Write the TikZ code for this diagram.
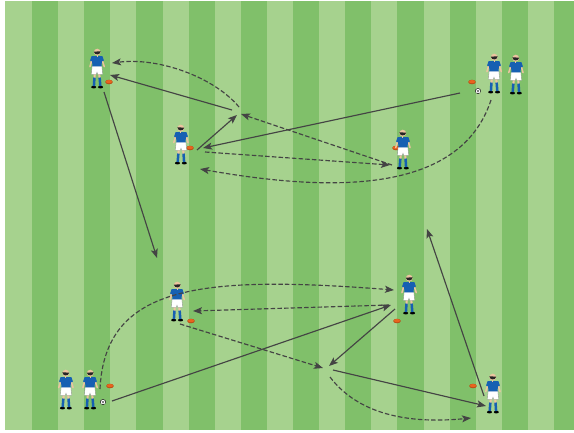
\documentclass[tikz,border=0pt]{standalone}
\usetikzlibrary{arrows.meta}
\definecolor{grassL}{RGB}{166,210,142}
\definecolor{grassD}{RGB}{128,192,106}
\definecolor{kitblue}{RGB}{22,96,178}
\definecolor{skintone}{RGB}{236,196,160}
\definecolor{conecol}{RGB}{232,100,30}
\definecolor{linecol}{RGB}{68,68,68}
\tikzset{
  run/.style={draw=linecol, line width=1.15pt, -{Stealth[length=9pt,width=7pt,inset=2pt]}},
  pass/.style={run, dash pattern=on 4.5pt off 2.2pt},
  cone/.pic={
    \fill[conecol!80!black] (0,0) ellipse (3.8pt and 2.3pt);
    \fill[conecol] (0,-0.4) ellipse (3.1pt and 1.6pt);
  },
  ball/.pic={
    \filldraw[fill=white, draw=black, line width=0.3pt] (0,0) circle (2.7pt);
    \fill[black] (0,0) circle (0.9pt);
    \fill[black] (-1.9,-1.2) circle (0.5pt) (1.9,-1.2) circle (0.5pt) (0,2.2) circle (0.5pt);
  },
  player/.pic={
    \begin{scope}[scale=1.1]
    % boots
    \fill[black] (-3,-0.8) ellipse (2.3pt and 1.2pt);
    \fill[black] (3.2,-0.8) ellipse (2.3pt and 1.2pt);
    % legs and socks
    \draw[skintone, line width=2.1pt] (-2,-13) -- (-2.3,-9);
    \draw[skintone, line width=2.1pt] (2,-13) -- (2.4,-9);
    \draw[kitblue, line width=2.5pt] (-2.3,-9.5) -- (-2.8,-1.8);
    \draw[kitblue, line width=2.5pt] (2.4,-9.5) -- (3,-1.8);
    % arms
    \draw[skintone, line width=1.5pt, line cap=round] (-4.5,-26) -- (-6.4,-19.5);
    \draw[skintone, line width=1.5pt, line cap=round] (4.5,-26) -- (6.6,-19.5);
    % shorts
    \filldraw[fill=white, draw=black!45, line width=0.3pt]
      (-4.4,-20) -- (4.4,-20) -- (5.1,-12.5) -- (0.6,-12.5) -- (0,-14.5)
      -- (-0.6,-12.5) -- (-5.1,-12.5) -- cycle;
    % shirt with short sleeves
    \fill[kitblue] (-4.9,-29) -- (4.9,-29) -- (6.3,-25) -- (4.4,-24.2) -- (4.2,-19.6)
      -- (-4.2,-19.6) -- (-4.4,-24.2) -- (-6.3,-25) -- cycle;
    % head and hair
    \fill[skintone] (-0.4,-28.5) rectangle (1.2,-30.5);
    \fill[skintone] (0.2,-32.6) circle (3.1pt);
    \fill[black!85] (-2.9,-33) arc[start angle=190, end angle=360, radius=3.1pt] -- (3.1,-33.4) -- cycle;
    \end{scope}
  }
}
\begin{document}
\begin{tikzpicture}[x=1pt, y=-1pt]
  \useasboundingbox (0,0) rectangle (574,432);
  \fill[white] (0,0) rectangle (574,432);
  % striped pitch
  \fill[grassL] (5,1) rectangle (574,430);
  \foreach \k in {0,...,10} {
    \pgfmathsetmacro{\xs}{32+52.2*\k}
    \pgfmathsetmacro{\xe}{min(\xs+26.1,574)}
    \fill[grassD] (\xs,1) rectangle (\xe,430);
  }

  % cones and balls
  \pic at (109,82) {cone};
  \pic at (190,148) {cone};
  \pic at (396,148) {cone};
  \pic at (472,82) {cone};
  \pic at (478,91) {ball};
  \pic at (110,386) {cone};
  \pic at (103,402) {ball};
  \pic at (191,321) {cone};
  \pic at (397,321) {cone};
  \pic at (473,386) {cone};

  % players
  \pic at (97,88) {player};
  \pic[xscale=-1] at (181,164) {player};
  \pic[xscale=-1] at (403,169) {player};
  \pic at (494,93) {player};
  \pic[xscale=-1] at (516,94) {player};
  \pic[xscale=-1] at (66,409) {player};
  \pic at (90,409) {player};
  \pic at (177,321) {player};
  \pic at (409,314) {player};
  \pic[xscale=-1] at (493,413) {player};

  % movement points of the upper group
  \coordinate (t1) at (104,92);
  \coordinate (t1a) at (110,75);
  \coordinate (t1b) at (112,63);
  \coordinate (t2) at (197,150);
  \coordinate (t2a) at (203,148);
  \coordinate (t2b) at (205,152);
  \coordinate (t2c) at (200,169);
  \coordinate (t3) at (390,165);
  \coordinate (t3a) at (392,165);
  \coordinate (t4) at (460,93);
  \coordinate (t4a) at (491,100);
  \coordinate (m1) at (232,110);
  \coordinate (m1a) at (239,107);
  \coordinate (m1b) at (237,115);
  \coordinate (m1c) at (241,114);
  \coordinate (d1) at (157,258);

  % movement points of the lower group
  \coordinate (b1) at (100,389);
  \coordinate (b1a) at (112,401);
  \coordinate (b2) at (193,311);
  \coordinate (b2a) at (180,324);
  \coordinate (b3) at (394,290);
  \coordinate (b3a) at (389,305);
  \coordinate (b3b) at (391,305);
  \coordinate (b3c) at (395,309);
  \coordinate (c1) at (323,368);
  \coordinate (c1a) at (329,366);
  \coordinate (c1b) at (333,370);
  \coordinate (c1c) at (330,377);
  \coordinate (b4) at (486,406);
  \coordinate (b4a) at (471,418);
  \coordinate (b4b) at (484,396);
  \coordinate (u1) at (427,229);

  % upper group
  \draw[run] (m1) -- (t1a);
  \draw[pass] (m1a) .. controls (215,78) and (160,57) .. (t1b);
  \draw[run] (t2) -- (m1b);
  \draw[pass] (t3a) -- (m1c);
  \draw[run] (t4) -- (t2a);
  \draw[pass] (t2b) -- (t3);
  \draw[pass] (t4a) .. controls (460,195) and (330,192) .. (t2c);
  \draw[run] (t1) -- (d1);

  % lower group
  \draw[pass] (b1) .. controls (105,285) and (200,275) .. (b3);
  \draw[pass] (b3a) -- (b2);
  \draw[run] (b1a) -- (b3b);
  \draw[pass] (b2a) -- (c1);
  \draw[run] (b3c) -- (c1a);
  \draw[run] (c1b) -- (b4);
  \draw[pass] (c1c) .. controls (355,410) and (400,425) .. (b4a);
  \draw[run] (b4b) -- (u1);
\end{tikzpicture}
\end{document}
